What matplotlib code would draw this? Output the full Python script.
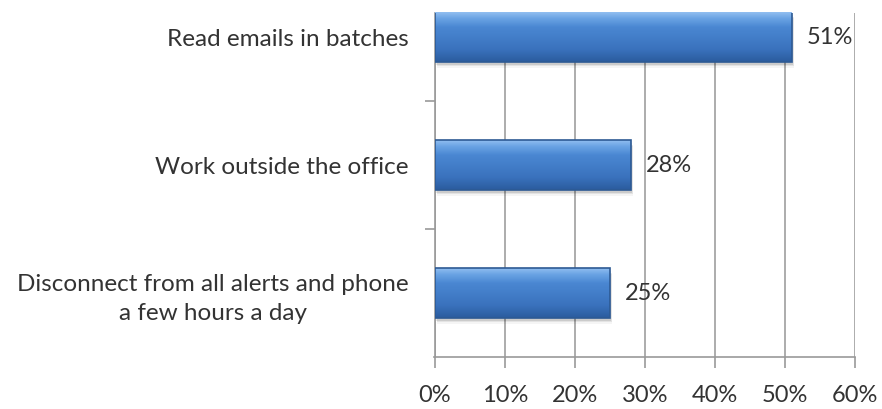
import numpy as np
import matplotlib
matplotlib.use("Agg")
import matplotlib.pyplot as plt
from matplotlib.colors import LinearSegmentedColormap
from matplotlib.patches import Rectangle

plt.rcParams['font.family'] = ['Lato', 'DejaVu Sans']

# survey answers, bottom to top
labels = ["Disconnect from all alerts and phone\na few hours a day",
          "Work outside the office",
          "Read emails in batches"]
values = [25, 28, 51]
xticks = [0, 10, 20, 30, 40, 50, 60]

fig = plt.figure(figsize=(8.82, 4.09), dpi=100)
ax = fig.add_axes([435 / 882, 52 / 409, 420 / 882, 344 / 409])

bar_h = 0.39
ypos = np.arange(len(values))

# vertical gradient used to fill each bar
bar_cmap = LinearSegmentedColormap.from_list(
    "barblue", [(0.0, "#2b5c9e"), (0.25, "#3a72bd"), (0.7, "#4a87d2"),
                (0.88, "#6aa3e4"), (1.0, "#8fbdf0")])
grad = np.linspace(0, 1, 64).reshape(-1, 1)

bars = ax.barh(ypos, values, height=bar_h, color="none", edgecolor="none", zorder=3)
for b, v in zip(bars, values):
    x0, y0 = b.get_x(), b.get_y()
    w, h = b.get_width(), b.get_height()
    # soft shadow under the bar
    for k, a in enumerate([0.10, 0.07, 0.04]):
        sh = Rectangle((x0 + 0.15 + 0.1 * k, y0 - 0.02 - 0.015 * k), w, h,
                       facecolor="#000000", alpha=a, edgecolor="none", zorder=2)
        ax.add_patch(sh)
    im = ax.imshow(grad, cmap=bar_cmap, aspect="auto", origin="lower",
                   extent=[x0, x0 + w, y0, y0 + h], zorder=3)
    im.set_clip_path(b)
    ax.add_patch(Rectangle((x0, y0), w, h, facecolor="none",
                           edgecolor="#2d5a94", linewidth=1.2, zorder=5))
    ax.text(v + 2.1, y0 + h / 2, f"{v}%", va="center", ha="left",
            fontsize=17, color="#333333", zorder=6)

ax.set_xlim(0, 60)
ax.set_ylim(-0.5, 2.1875)
ax.set_xticks(xticks)
ax.set_xticklabels([f"{t}%" for t in xticks], fontsize=17, color="#333333")
ax.xaxis.grid(True, color="#a6a6a6", linewidth=1.3, zorder=0)
ax.set_axisbelow(True)

ax.set_yticks(ypos)
ax.set_yticklabels(labels, fontsize=17.5, color="#333333", ha="right")
ax.tick_params(axis="y", length=0, pad=19)
ax.set_yticks([0.5, 1.5], minor=True)
ax.tick_params(axis="y", which="minor", length=7, color="#999999", width=1.2)
ax.tick_params(axis="x", length=8, color="#999999", width=1.2, pad=12)

for s in ["top", "right"]:
    ax.spines[s].set_visible(False)
ax.spines["left"].set_color("#999999")
ax.spines["left"].set_linewidth(1.2)
ax.spines["bottom"].set_color("#999999")
ax.spines["bottom"].set_linewidth(1.2)
ax.spines["bottom"].set_bounds(-0.1, 60)
for lab in ax.get_yticklabels():
    lab.set_multialignment("center")
    lab.set_linespacing(1.45)

fig.savefig("out.png", dpi=100)
